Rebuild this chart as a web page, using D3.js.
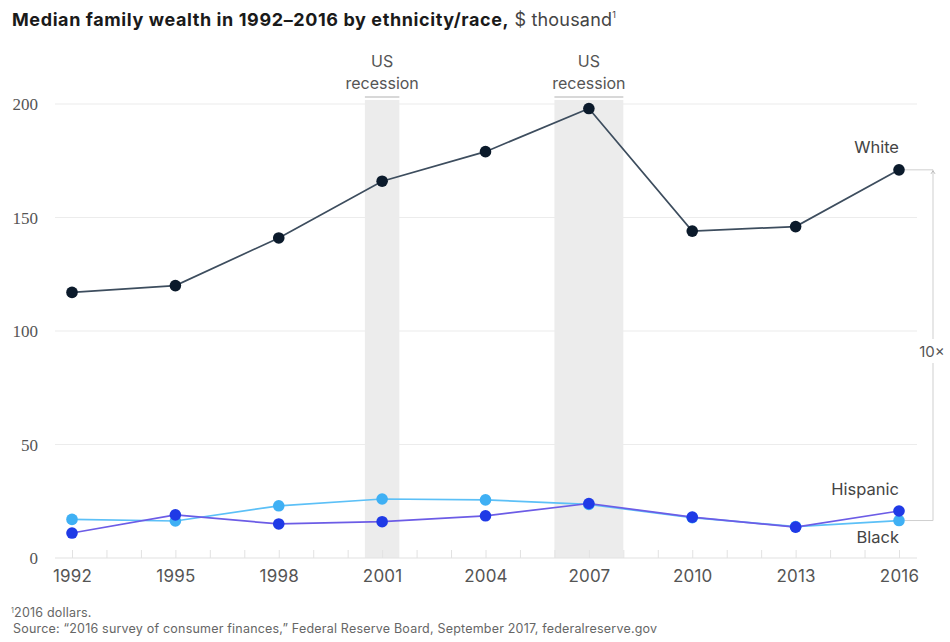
<!DOCTYPE html>
<html>
<head>
<meta charset="utf-8">
<script src="https://cdn.jsdelivr.net/npm/d3@7"></script>
<style>
  html, body { margin: 0; padding: 0; background: #fff; }
  svg { display: block; }
</style>
</head>
<body>
<svg id="chart" width="950" height="642"></svg>
<script>
// Survey years and median family wealth, $ thousand (2016 dollars)
const years = [1992, 1995, 1998, 2001, 2004, 2007, 2010, 2013, 2016];
const white = [117, 120, 141, 166, 179, 198, 144, 146, 171];
const hispanic = [11, 19, 15, 16, 18.6, 24, 18, 13.6, 20.7];
const black = [17, 16.3, 23, 26, 25.6, 23.6, 17.8, 13.8, 16.5];
const yTicks = [0, 50, 100, 150, 200];
const recessions = [[2000.5, 2001.5], [2006, 2008]];

const sans = "Inter, 'Noto Sans', sans-serif";
const svg = d3.select("#chart");
const x = d3.scaleLinear().domain([1992, 2016]).range([72, 899]);
const y = d3.scaleLinear().domain([0, 200]).range([558, 104]);

// Title
const title = svg.append("text").attr("x", 12).attr("y", 26)
  .attr("font-family", sans).attr("font-size", 18).attr("fill", "#1a1a1a");
title.append("tspan").attr("font-weight", 700).attr("letter-spacing", 0.6)
  .text("Median family wealth in 1992\u20132016 by ethnicity/race,");
title.append("tspan").attr("font-weight", 400).attr("fill", "#444").attr("letter-spacing", 0.2).text(" $ thousand");
title.append("tspan").attr("font-size", 9).attr("dy", -8).attr("fill", "#444").text("1");

// Recession bands
recessions.forEach(([a, b]) => {
  svg.append("rect").attr("x", x(a)).attr("y", 100)
    .attr("width", x(b) - x(a)).attr("height", y(0) - 100).attr("fill", "#ececec");
  svg.append("line").attr("x1", x(a)).attr("x2", x(b)).attr("y1", 97).attr("y2", 97)
    .attr("stroke", "#d8d8d8").attr("stroke-width", 2);
  const cx = (x(a) + x(b)) / 2;
  const lab = svg.append("text").attr("text-anchor", "middle")
    .attr("font-family", sans).attr("font-size", 16).attr("fill", "#555");
  lab.append("tspan").attr("x", cx).attr("y", 67).text("US");
  lab.append("tspan").attr("x", cx).attr("y", 89).text("recession");
});

// Horizontal gridlines and y labels
const grid = svg.append("g");
yTicks.filter(d => d > 0).forEach(d => {
  grid.append("line").attr("x1", 55).attr("x2", 917).attr("y1", y(d)).attr("y2", y(d))
    .attr("stroke", "#ececec").attr("stroke-width", 1.2);
});
yTicks.forEach(d => {
  svg.append("text").attr("x", 38).attr("y", y(d) + 6).attr("text-anchor", "end")
    .attr("font-family", "'Liberation Serif', 'DejaVu Serif', serif").attr("font-size", 17)
    .attr("fill", "#555").text(d);
});

// X axis: baseline with a tick every year, labels at survey years
const xAxis = d3.axisBottom(x)
  .tickValues(d3.range(1992, 2017))
  .tickSize(-8).tickSizeOuter(0).tickPadding(12)
  .tickFormat(d => years.includes(d) ? String(d) : "");
const gx = svg.append("g").attr("transform", `translate(0,${y(0)})`).call(xAxis);
gx.select(".domain").attr("d", `M55,0H917`).attr("stroke", "#e2e2e2").attr("stroke-width", 1.2);
gx.selectAll(".tick line").attr("stroke", "#e2e2e2");
gx.selectAll(".tick text").attr("font-family", sans)
  .attr("font-size", 17).attr("letter-spacing", 0.2).attr("fill", "#555");

// Ratio bracket from White to Black in 2016
const bx = 933;
svg.append("path")
  .attr("d", `M${x(2016) + 6},${y(white[8])}H${bx}V${y(black[8])}H${x(2016) + 6}`)
  .attr("fill", "none").attr("stroke", "#cfcfcf").attr("stroke-width", 1);
svg.append("rect").attr("x", bx - 15).attr("y", 339).attr("width", 32).attr("height", 24).attr("fill", "#fff");
svg.append("path").attr("d", `M${bx - 2},${y(white[8]) + 4}L${bx},${y(white[8]) + 1}L${bx + 2},${y(white[8]) + 4}`)
  .attr("fill", "none").attr("stroke", "#bbb").attr("stroke-width", 1);
svg.append("text").attr("x", bx - 1).attr("y", 357).attr("text-anchor", "middle")
  .attr("font-family", sans).attr("font-size", 15).attr("fill", "#555").text("10\u00d7");

// Series lines and dots
const line = d3.line().x((d, i) => x(years[i])).y(d => y(d));
const series = [
  { data: black, line: "#5cc0f7", dot: "#3fb0f4" },
  { data: hispanic, line: "#6c5ce6", dot: "#1f3ae6" },
  { data: white, line: "#3d4d5e", dot: "#0b1a2b" }
];
series.forEach(s => {
  svg.append("path").datum(s.data).attr("d", line)
    .attr("fill", "none").attr("stroke", s.line).attr("stroke-width", 1.7);
  svg.append("g").selectAll("circle").data(s.data).join("circle")
    .attr("cx", (d, i) => x(years[i])).attr("cy", d => y(d)).attr("r", 5.8).attr("fill", s.dot);
});

// Series labels
const labels = [["White", white[8], -17], ["Hispanic", hispanic[8], -16], ["Black", black[8], 22]];
labels.forEach(([t, v, dy]) => {
  svg.append("text").attr("x", 899).attr("y", y(v) + dy).attr("text-anchor", "end")
    .attr("font-family", sans).attr("font-size", 16.5).attr("fill", "#444").text(t);
});

// Notes
const notes = svg.append("g").attr("font-family", sans).attr("font-size", 12.5)
  .attr("letter-spacing", 0.2).attr("fill", "#666");
const n1 = notes.append("text").attr("x", 11).attr("y", 617);
n1.append("tspan").attr("font-size", 7).attr("dy", -4).text("1");
n1.append("tspan").attr("dy", 4).text("2016 dollars.");
notes.append("text").attr("x", 13).attr("y", 633)
  .text("Source: \u201c2016 survey of consumer finances,\u201d Federal Reserve Board, September 2017, federalreserve.gov");
</script>
</body>
</html>
